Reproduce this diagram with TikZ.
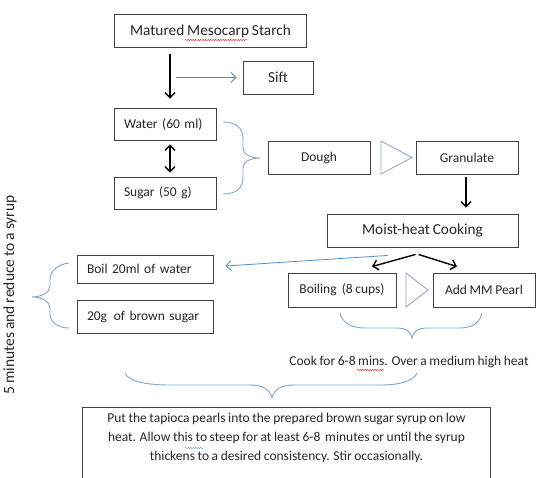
\documentclass[tikz,border=0pt]{standalone}
\usepackage{fontspec}
\setmainfont{Carlito}[WordSpace=0.85]
\usetikzlibrary{arrows.meta,decorations.pathmorphing}
\definecolor{txt}{HTML}{262626}
\definecolor{bord}{HTML}{404040}
\definecolor{blueline}{HTML}{4F8FC8}
\definecolor{bracec}{HTML}{7EA6CE}
\definecolor{tric}{HTML}{8FA9C6}
\begin{document}
\begin{tikzpicture}[x=1pt,y=-1pt,
 box/.style={draw=bord,line width=0.9pt,text=txt,inner sep=0pt,font=\fontsize{13.5}{16}\selectfont},
 bigbox/.style={box,font=\fontsize{15.3}{18}\selectfont},
 leftbox/.style={box,inner xsep=10pt,align=left},
 blk/.style={-{Straight Barb[length=5pt,width=10pt]},line width=1.4pt,black},
 blu/.style={-{Straight Barb[length=5pt,width=10pt]},line width=0.8pt,blueline},
 brc/.style={draw=bracec,line width=0.9pt},
 tri/.style={draw=tric,line width=0.9pt},
 squig/.style={line width=0.4pt,decorate,decoration={snake,amplitude=0.6pt,segment length=2.5pt}},
 plain/.style={text=txt,inner sep=0pt,font=\fontsize{13.5}{19}\selectfont}]
\useasboundingbox (0,0) rectangle (557,477);
\clip (0,0) rectangle (557,477);
% boxes
\node[bigbox,minimum width=192pt,minimum height=33pt] (mat) at (210.5,31) {Matured Mesocarp Starch};
\node[bigbox,minimum width=70pt,minimum height=33pt] (sift) at (278,77.5) {Sift};
\node[leftbox,text width=82pt,minimum height=32pt] (water) at (165,124) {Water (60 ml)};
\node[leftbox,text width=82pt,minimum height=32pt] (sugar) at (165,193) {Sugar (50 g)};
\node[box,minimum width=102pt,minimum height=33pt] (dough) at (319,157.5) {Dough};
\node[box,minimum width=102pt,minimum height=33pt] (gran) at (467,157.5) {Granulate};
\node[bigbox,minimum width=191pt,minimum height=33pt] (moist) at (422.5,230.5) {Moist-heat Cooking};
\node[box,minimum width=108pt,minimum height=34pt] (boil) at (342,290) {Boiling\ \ (8 cups)};
\node[box,minimum width=102pt,minimum height=34pt] (add) at (484,290) {Add MM Pearl};
\node[leftbox,text width=116pt,minimum height=28pt] (b20) at (145,269) {Boil 20ml of water};
\node[leftbox,text width=116pt,minimum height=33pt] (g20) at (145,316.5) {20g\, of brown sugar};
% texts
\node[plain] (cook) at (409,362) {Cook for 6-8 mins. Over a medium high heat};
\node[plain,rotate=90,font=\fontsize{15.5}{18}\selectfont] (side) at (10,295) {5 minutes and reduce to a syrup};
\node[plain,anchor=north,align=center,inner ysep=6pt,minimum width=407pt] (note) at (286.5,407)
 {Put the tapioca pearls into the prepared brown sugar syrup on low\\
  heat. Allow this to steep for at least 6-8\, minutes or until the syrup\\
  thickens to a desired consistency. Stir occasionally.};
\draw[bord,line width=0.9pt] ([yshift=-80pt]note.north west) -- (note.north west) -- (note.north east) -- ([yshift=-80pt]note.north east);
% triangles
\draw[tri] (381,141) -- (412,157.5) -- (381,174) -- cycle;
\draw[tri] (406,273) -- (428,290) -- (406,307) -- cycle;
% braces
\draw[brc] (223,122) .. controls (236,122) and (243,128) .. (243,138) -- (243,148) .. controls (243,154) and (250,158) .. (260,158) .. controls (250,158) and (243,162) .. (243,168) -- (243,178) .. controls (243,188) and (236,194) .. (223,194);
\draw[brc] (69,263) .. controls (58,264) and (50,271) .. (50,280) -- (50,286) .. controls (50,292) and (42,297) .. (32,297) .. controls (42,297) and (50,302) .. (50,308) -- (50,314) .. controls (50,322) and (58,328) .. (69,328);
\draw[brc] (340,313) .. controls (342,323) and (352,328) .. (365,328) -- (398,328) .. controls (405,328) and (411,331) .. (412,338) .. controls (413,331) and (419,328) .. (426,328) -- (459,328) .. controls (472,328) and (480,323) .. (482,313);
\draw[brc] (125,373) .. controls (128,381) and (145,385) .. (170,385) -- (250,385) .. controls (262,385) and (270,389) .. (272,398) .. controls (274,389) and (282,385) .. (294,385) -- (380,385) .. controls (400,385) and (414,381) .. (417,373);
% arrows
\draw[blk] ([xshift=-40.5pt,yshift=-6pt]mat.south) -- ([xshift=5pt,yshift=9pt]water.north);
\coordinate (sa) at (176,77.5);
\draw[blu] (sa) -- ([xshift=-6pt]sift.west);
\draw[line width=1.4pt,{Straight Barb[length=5pt,width=10pt]}-{Straight Barb[length=5pt,width=10pt]}] ([xshift=5pt,yshift=-4pt]water.south) -- ([xshift=5pt,yshift=4pt]sugar.north);
\draw[blk] ([xshift=-1pt,yshift=-3pt]gran.south) -- ([xshift=-1pt,yshift=6pt]gran.south |- moist.north);
\draw[blk] ([xshift=-7pt,yshift=-7pt]moist.south) -- ([xshift=30pt,yshift=6pt]boil.north);
\draw[blk] ([xshift=-4pt,yshift=-7pt]moist.south) -- ([xshift=-27pt,yshift=6pt]add.north);
\draw[blu] ([xshift=-35pt,yshift=-8pt]moist.south) -- ([xshift=12pt,yshift=3pt]b20.east);
% spell-check squiggles
\draw[red,squig] (185,40) -- (247,40);
\draw[red,squig] (357,370) -- (384,370);
\draw[blueline,squig] (185,448) -- (204,448);
\end{tikzpicture}
\end{document}
